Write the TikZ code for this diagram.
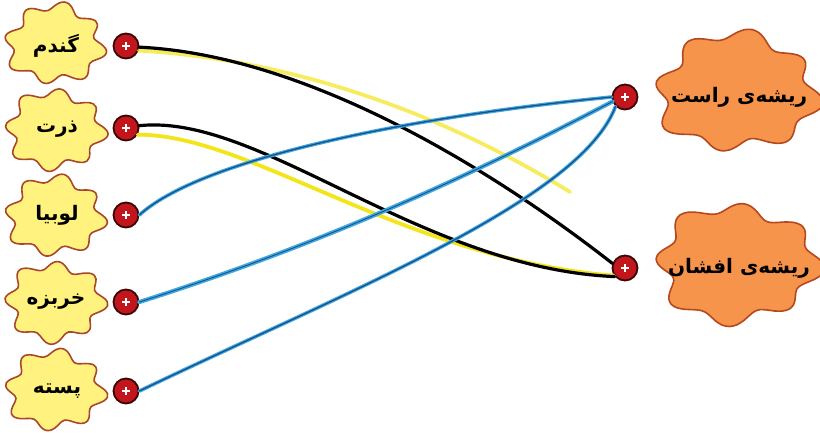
\documentclass[tikz,border=0pt]{standalone}
\usepackage{fontspec}
\TeXXeTstate=1
\newfontfamily\arabicfont[Script=Arabic]{DejaVu Sans}
\definecolor{yfill}{HTML}{FFF27E}
\definecolor{yedge}{HTML}{A8482A}
\definecolor{ofill}{HTML}{F7944C}
\definecolor{oedge}{HTML}{B4491E}
\definecolor{dotred}{HTML}{C3151C}
\definecolor{dotedge}{HTML}{3A0606}
\definecolor{hlyellow}{HTML}{F4E41A}
\definecolor{lblue}{HTML}{3DA9DE}
\definecolor{dblue}{HTML}{1A4F8E}
\tikzset{
  yblob/.pic={
    \draw[yedge, line width=1.6pt, fill=yfill]
      plot[smooth cycle, domain=0:355, samples=72, variable=\t]
      ({46*(1+0.12*sin(8*\t+#1)+0.04*sin(3*\t+2*#1))*cos(\t)},
       {37*(1+0.12*sin(8*\t+#1)+0.04*sin(3*\t+2*#1))*sin(\t)});
  },
  oblob/.pic={
    \draw[oedge, line width=1.6pt, fill=ofill]
      plot[smooth cycle, domain=0:355, samples=72, variable=\t]
      ({77*(1+0.10*sin(8*\t+#1)+0.05*sin(3*\t+2*#1))*cos(\t)},
       {56*(1+0.10*sin(8*\t+#1)+0.05*sin(3*\t+2*#1))*sin(\t)});
  },
  lbl/.style={font=\arabicfont\bfseries\fontsize{20}{24}\selectfont, text=black, inner sep=0pt},
  rlbl/.style={font=\arabicfont\bfseries\fontsize{20}{24}\selectfont, text=black, inner sep=0pt},
  dot/.style={circle, fill=dotred, draw=dotedge, line width=1.8pt, minimum size=25pt, inner sep=0pt,
    path picture={\draw[white, line width=1.8pt]
      ([xshift=-3.8pt]path picture bounding box.center) -- ([xshift=3.8pt]path picture bounding box.center)
      ([yshift=-3.8pt]path picture bounding box.center) -- ([yshift=3.8pt]path picture bounding box.center);}},
  pen/.style={black, line width=3.2pt, line cap=round},
  hl/.style={hlyellow, line width=3.8pt, line cap=round},
  blueL/.style={lblue, line width=3.6pt, line cap=round},
  blueD/.style={dblue, line width=1.3pt, line cap=round},
}
\begin{document}
\begin{tikzpicture}[x=1pt,y=-1pt]
\useasboundingbox (0,0) rectangle (820,433);
% left blobs
\pic at (55,44) {yblob=0};
\pic at (55,130) {yblob=40};
\pic at (55,216) {yblob=15};
\pic at (55,302) {yblob=60};
\pic at (55,390) {yblob=25};
\node[lbl] (gandom) at (56,46) {\beginR گندم\endR};
\node[lbl] (zorrat) at (57,129) {\beginR ذرت\endR};
\node[lbl] (lubia) at (57,215) {\beginR لوبیا\endR};
\node[lbl] (kharboze) at (56,302) {\beginR خربزه\endR};
\node[lbl] (peste) at (57,391) {\beginR پسته\endR};
% right blobs
\pic at (737,92) {oblob=10};
\pic at (737,264) {oblob=50};
\node[rlbl] (rast) at (739,97) {\beginR ریشه‌ی راست\endR};
\node[rlbl] (afshan) at (739,268) {\beginR ریشه‌ی افشان\endR};
% dots
\node[dot] (dg) at (126,46) {};
\node[dot] (dz) at (126,128) {};
\node[dot] (dl) at (126,215) {};
\node[dot] (dk) at (126,302) {};
\node[dot] (dp) at (126,391) {};
\node[dot] (dr) at (625,97) {};
\node[dot] (da) at (625,268) {};
% connectors: yellow highlighter under black pen
\draw[hl, opacity=0.7] (dg.-20) .. controls (300,60) and (450,118) .. (570,192);
\draw[hl] (dz.-30) .. controls (250,134) and (400,258) .. (da.215);
\draw[pen] (dg.-5) .. controls (300,55) and (480,160) .. (da.160);
\draw[pen] (dz.10) .. controls (260,113) and (420,268) .. (da.220);
% blue connectors
\draw[blueL] (dl.east) .. controls (200,160) and (400,118) .. (dr.180);
\draw[blueD] (dl.east) .. controls (200,160) and (400,118) .. (dr.180);
\draw[blueL, line width=4.2pt] (dk.east) .. controls (350,235) and (500,160) .. (dr.200);
\draw[blueD, line width=0.9pt] (dk.east) .. controls (350,235) and (500,160) .. (dr.200);
\draw[blueL] (dp.east) .. controls (350,290) and (580,200) .. (dr.225);
\draw[blueD] (dp.east) .. controls (350,290) and (580,200) .. (dr.225);
\end{tikzpicture}
\end{document}
